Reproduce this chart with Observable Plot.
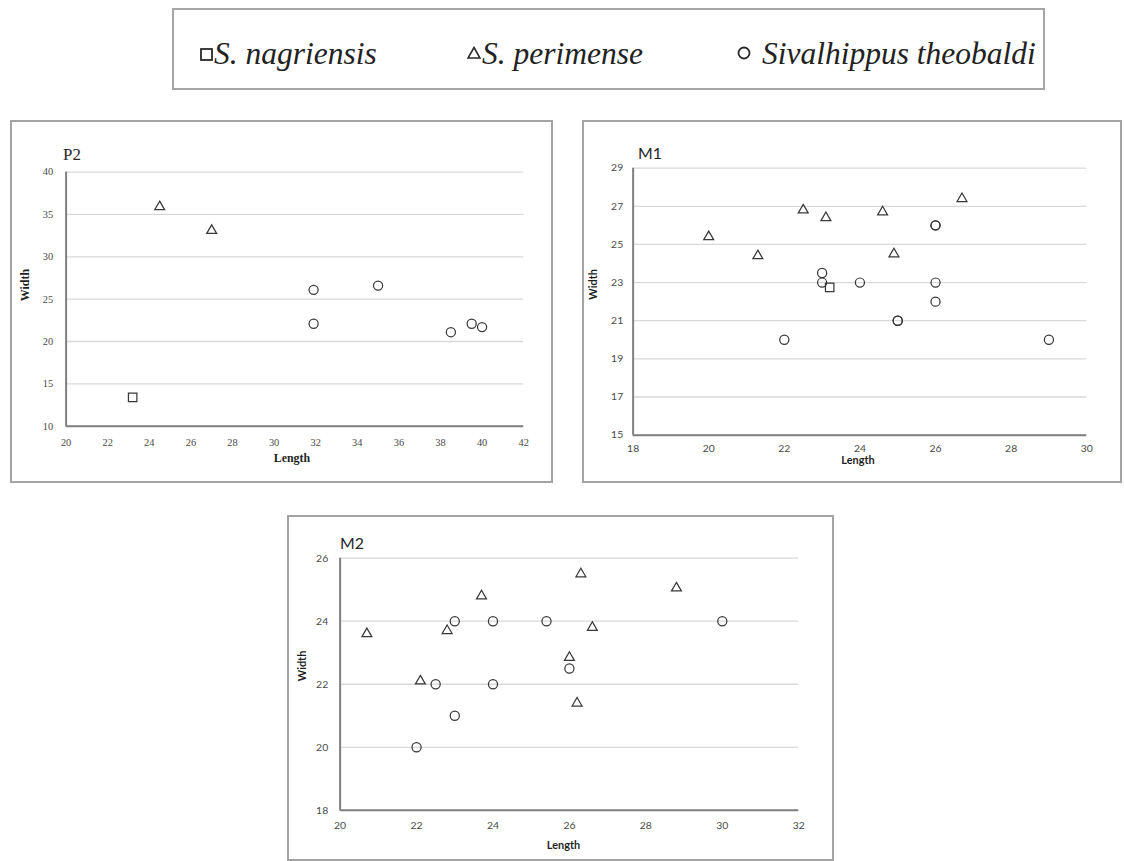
<!DOCTYPE html>
<html>
<head>
<meta charset="utf-8">
<script src="https://cdn.jsdelivr.net/npm/d3@7"></script>
<script src="https://cdn.jsdelivr.net/npm/@observablehq/plot@0.6"></script>
<style>
  html, body { margin: 0; padding: 0; background: #fff; }
  body { position: relative; width: 1124px; height: 861px; overflow: hidden; }
  .panel { position: absolute; box-sizing: border-box; border: 2px solid #a3a3a3; background: #fff; }
  .panel svg { position: absolute; left: -2px; top: -2px; }
  #legend { position: absolute; left: 172px; top: 8px; width: 873px; height: 82px; box-sizing: border-box; border: 2px solid #a6a6a6; background: #fff; }
  .lg-text { position: absolute; top: 28px; font-family: "Liberation Serif", "DejaVu Serif", serif; font-style: italic; font-size: 31.5px; line-height: 32px; color: #222; white-space: nowrap; }
  .lg-mark { position: absolute; }
</style>
</head>
<body>
<div id="legend"></div>
<script>
// ---------- data ----------
const speciesCodes = ["nag", "per", "theo"];
const speciesNames = ["S. nagriensis", "S. perimense", "Sivalhippus theobaldi"];
const speciesSymbols = ["square", "triangle", "circle"];

// P2
const p2Species = ["nag", "per", "per", "theo", "theo", "theo", "theo", "theo", "theo"];
const p2Length  = [23.2, 24.5, 27.0, 31.9, 31.9, 35.0, 38.5, 39.5, 40.0];
const p2Width   = [13.4, 35.9, 33.1, 26.1, 22.1, 26.6, 21.1, 22.1, 21.7];
const p2LengthTicks = [20, 22, 24, 26, 28, 30, 32, 34, 36, 38, 40, 42];
const p2WidthTicks  = [10, 15, 20, 25, 30, 35, 40];

// M1
const m1Species = ["per", "per", "per", "per", "per", "per", "per", "nag",
                   "theo", "theo", "theo", "theo", "theo", "theo", "theo", "theo", "theo", "theo", "theo"];
const m1Length  = [20.0, 21.3, 22.5, 23.1, 24.6, 24.9, 26.7, 23.2,
                   26.0, 26.0, 23.0, 23.0, 24.0, 26.0, 26.0, 25.0, 25.0, 22.0, 29.0];
const m1Width   = [25.4, 24.4, 26.8, 26.4, 26.7, 24.5, 27.4, 22.75,
                   26.0, 26.0, 23.5, 23.0, 23.0, 23.0, 22.0, 21.0, 21.0, 20.0, 20.0];
const m1LengthTicks = [18, 20, 22, 24, 26, 28, 30];
const m1WidthTicks  = [15, 17, 19, 21, 23, 25, 27, 29];

// M2
const m2Species = ["per", "per", "per", "per", "per", "per", "per", "per", "per",
                   "theo", "theo", "theo", "theo", "theo", "theo", "theo", "theo", "theo"];
const m2Length  = [20.7, 22.1, 22.8, 23.7, 26.0, 26.3, 26.2, 26.6, 28.8,
                   22.5, 23.0, 23.0, 22.0, 24.0, 24.0, 25.4, 26.0, 30.0];
const m2Width   = [23.6, 22.1, 23.7, 24.8, 22.85, 25.5, 21.4, 23.8, 25.05,
                   22.0, 24.0, 21.0, 20.0, 24.0, 22.0, 24.0, 22.5, 24.0];
const m2LengthTicks = [20, 22, 24, 26, 28, 30, 32];
const m2WidthTicks  = [18, 20, 22, 24, 26];

// ---------- helpers ----------
const ink = "#383838";
const markerR = {square: 4.8, triangle: 3.7, circle: 4.6};
const SERIF = '"Liberation Serif", "DejaVu Serif", serif';
const SANS = 'Lato, "Liberation Sans", sans-serif';

function rows(sp, len, wid) {
  return sp.map((s, i) => ({species: s, length: len[i], width: wid[i]}));
}

function drawPanel(p) {
  const panel = document.createElement("div");
  panel.className = "panel";
  Object.assign(panel.style, {left: p.left + "px", top: p.top + "px", width: p.width + "px", height: p.height + "px"});
  document.body.appendChild(panel);

  const marks = [
    Plot.ruleY(p.yTicks, {stroke: "#d9d9d9", strokeWidth: 1.3}),
    Plot.ruleY([p.yTicks[0]], {stroke: "#7f7f7f", strokeWidth: 2}),
    Plot.ruleX([p.xTicks[0]], {stroke: "#7f7f7f", strokeWidth: 2})
  ];
  speciesCodes.forEach((code, k) => {
    const sym = speciesSymbols[k];
    marks.push(Plot.dot(p.data.filter(d => d.species === code), {
      x: "length", y: "width", symbol: sym, r: markerR[sym],
      stroke: ink, strokeWidth: 1.25, fill: "none"
    }));
  });
  marks.push(Plot.text([p.title], {text: d => d, frameAnchor: "top-left", textAnchor: "start",
    dx: p.titleDx, dy: p.titleDy, fontSize: p.titleSize, fill: "#262626", fontFamily: p.font}));
  marks.push(Plot.text(["Length"], {text: d => d, frameAnchor: "bottom", dx: p.xLabelDx, dy: p.xLabelDy,
    fontWeight: "bold", fontSize: p.labelSize, fill: "#1f1f1f", fontFamily: p.font}));
  marks.push(Plot.text(["Width"], {text: d => d, frameAnchor: "left", rotate: -90, dx: p.yLabelDx, dy: p.yLabelDy,
    fontWeight: "bold", fontSize: p.labelSize, fill: "#1f1f1f", fontFamily: p.font}));

  const svg = Plot.plot({
    width: p.width, height: p.height,
    marginLeft: p.mL, marginRight: p.mR, marginTop: p.mT, marginBottom: p.mB,
    style: {fontFamily: p.font, fontSize: "10.5px", color: "#4a4a4a", background: "transparent", overflow: "visible"},
    x: {domain: [p.xTicks[0], p.xTicks[p.xTicks.length - 1]], ticks: p.xTicks, tickSize: 0, tickPadding: p.xPad, label: null},
    y: {domain: [p.yTicks[0], p.yTicks[p.yTicks.length - 1]], ticks: p.yTicks, tickSize: 0, tickPadding: p.yPad, label: null},
    marks
  });
  svg.setAttribute("font-family", p.font);
  panel.appendChild(svg);
}

// ---------- panels ----------
drawPanel({
  title: "P2", font: SERIF, titleSize: 17,
  left: 10, top: 120, width: 543, height: 363, mL: 56, mR: 26, mT: 52, mB: 55,
  xTicks: p2LengthTicks, yTicks: p2WidthTicks, xPad: 12, yPad: 13,
  titleDx: -3, titleDy: -24, xLabelDx: -3, xLabelDy: 36, yLabelDx: -41, yLabelDy: 2, labelSize: 12,
  data: rows(p2Species, p2Length, p2Width)
});
drawPanel({
  title: "M1", font: SANS, titleSize: 16,
  left: 582, top: 120, width: 540, height: 363, mL: 51, mR: 32, mT: 48, mB: 46,
  xTicks: m1LengthTicks, yTicks: m1WidthTicks, xPad: 10, yPad: 10,
  titleDx: 5, titleDy: -21, xLabelDx: -2, xLabelDy: 29, yLabelDx: -40, yLabelDy: -2, labelSize: 11,
  data: rows(m1Species, m1Length, m1Width)
});
drawPanel({
  title: "M2", font: SANS, titleSize: 16,
  left: 287, top: 515, width: 547, height: 346, mL: 53, mR: 32, mT: 43, mB: 49,
  xTicks: m2LengthTicks, yTicks: m2WidthTicks, xPad: 11, yPad: 12,
  titleDx: 0, titleDy: -21, xLabelDx: -6, xLabelDy: 39, yLabelDx: -38, yLabelDy: -3, labelSize: 11,
  data: rows(m2Species, m2Length, m2Width)
});

// ---------- legend ----------
const legend = document.getElementById("legend");
const markCenters = [32, 300, 570];   // relative to legend inner box
const textStarts  = [40, 308, 588];
const shapes = {
  square:   '<rect x="1" y="1" width="11" height="11" fill="none" stroke="#2a2a2a" stroke-width="1.8"/>',
  triangle: '<path d="M7 1.5 L13 12 L1 12 Z" fill="none" stroke="#2a2a2a" stroke-width="1.6"/>',
  circle:   '<circle cx="7" cy="7" r="5.5" fill="none" stroke="#2a2a2a" stroke-width="1.8"/>'
};
speciesNames.forEach((name, k) => {
  const sym = speciesSymbols[k];
  const m = document.createElement("div");
  m.className = "lg-mark";
  const w = sym === "square" ? 13 : 14;
  m.style.left = (markCenters[k] - w / 2) + "px";
  m.style.top = (43 - w / 2) + "px";
  m.innerHTML = `<svg width="${w}" height="${w}">${shapes[sym]}</svg>`;
  legend.appendChild(m);
  const t = document.createElement("div");
  t.className = "lg-text";
  t.style.left = textStarts[k] + "px";
  t.textContent = name;
  legend.appendChild(t);
});
</script>
</body>
</html>
